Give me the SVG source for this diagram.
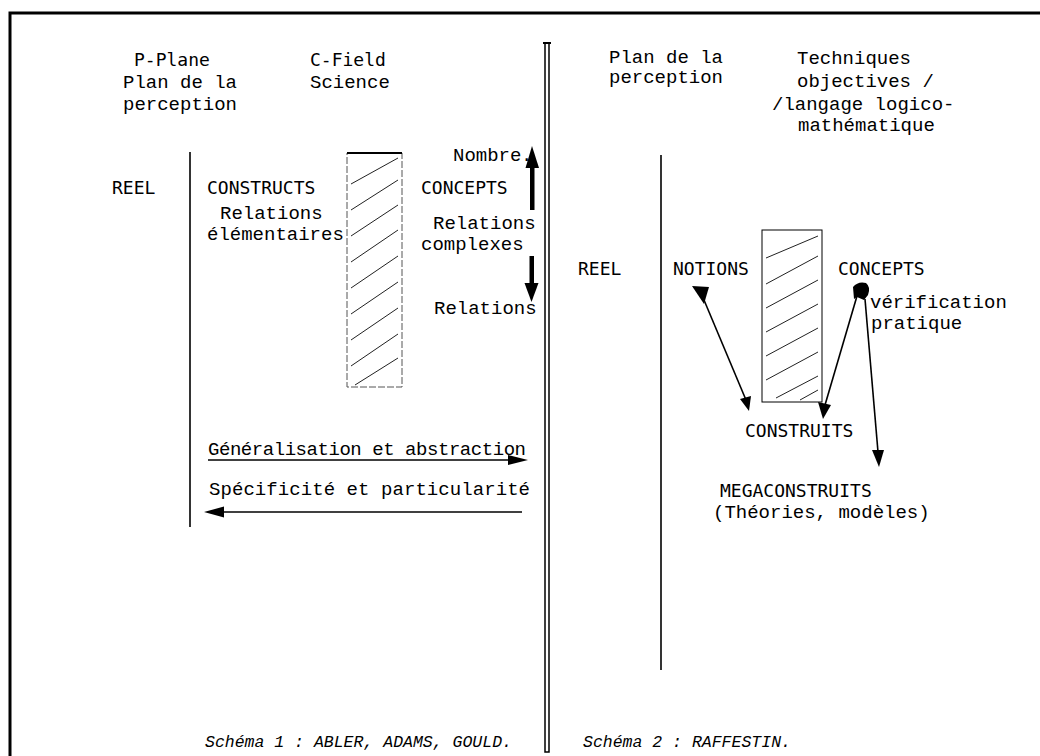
<svg xmlns="http://www.w3.org/2000/svg" width="1040" height="756" viewBox="0 0 1040 756">
<defs>
<style>
.sans{font-family:"DejaVu Sans Mono","Liberation Mono",monospace;font-size:18px;fill:#000}
.mono{font-family:"Liberation Mono","DejaVu Sans Mono",monospace;font-size:19px;fill:#000}
.cap{font-family:"Liberation Mono","DejaVu Sans Mono",monospace;font-size:16.5px;font-style:italic;fill:#000}
.ln{stroke:#000;stroke-width:1.6;fill:none}
.hatch{stroke:#222;stroke-width:1;fill:none}
</style>
<marker id="ah" viewBox="0 0 10 10" refX="9" refY="5" markerWidth="7" markerHeight="7" markerUnits="userSpaceOnUse" orient="auto">
<path d="M0,0 L10,5 L0,10 z" fill="#000"/>
</marker>
<marker id="ahb" viewBox="0 0 10 10" refX="9" refY="5" markerWidth="9" markerHeight="11" orient="auto" markerUnits="userSpaceOnUse">
<path d="M0,0 L10,5 L0,10 z" fill="#000"/>
</marker>
</defs>
<rect width="1040" height="756" fill="#fff"/>
<path d="M10,756 V13 H1040" stroke="#000" stroke-width="3" fill="none"/>

<g id="divider">
<path d="M545,42 V752 H549 V42" stroke="#000" stroke-width="1.5" fill="none"/>
<line x1="543" y1="43" x2="551" y2="43" stroke="#000" stroke-width="2"/>
</g>

<g id="schema1-headers">
<text class="sans" x="134" y="66">P-Plane</text>
<text class="mono" x="123" y="88">Plan de la</text>
<text class="mono" x="123" y="110">perception</text>
<text class="sans" x="310" y="66">C-Field</text>
<text class="mono" x="310" y="88">Science</text>
</g>

<g id="schema1-axis"><line class="ln" x1="190" y1="152" x2="190" y2="527"/></g>

<g id="reel1"><text class="sans" x="112" y="194">REEL</text></g>
<g id="constructs">
<text class="sans" x="207" y="194">CONSTRUCTS</text>
<text class="mono" x="220" y="219">Relations</text>
<text class="mono" x="207" y="240">élémentaires</text>
</g>

<g id="hatch1">
<rect x="347" y="153" width="55" height="234" stroke="#555" stroke-width="1" stroke-dasharray="7 2" fill="none"/>
<line x1="347" y1="153" x2="402" y2="153" stroke="#000" stroke-width="2"/>
<g class="hatch">
<line x1="351" y1="184" x2="398" y2="158"/>
<line x1="351" y1="210" x2="398" y2="180"/>
<line x1="351" y1="236" x2="398" y2="205"/>
<line x1="351" y1="262" x2="398" y2="230"/>
<line x1="351" y1="288" x2="398" y2="256"/>
<line x1="351" y1="314" x2="398" y2="282"/>
<line x1="351" y1="340" x2="398" y2="308"/>
<line x1="351" y1="366" x2="398" y2="334"/>
<line x1="355" y1="385" x2="398" y2="358"/>
</g>
</g>

<g id="concepts1">
<text class="mono" x="453" y="161">Nombre</text>
<text class="mono" x="521" y="161">.</text>
<text class="sans" x="421" y="194">CONCEPTS</text>
<text class="mono" x="433" y="229">Relations</text>
<text class="mono" x="421" y="250">complexes</text>
<text class="mono" x="434" y="314">Relations</text>
</g>

<g id="schema1-arrows-text">
<text class="mono" x="208" y="455" textLength="318">Généralisation et abstraction</text>
<text class="mono" x="209" y="495" textLength="321">Spécificité et particularité</text>
</g>

<g id="schema2-headers">
<text class="mono" x="609" y="63">Plan de la</text>
<text class="mono" x="609" y="83">perception</text>
<text class="mono" x="797" y="64">Techniques</text>
<text class="mono" x="797" y="87">objectives /</text>
<text class="mono" x="772" y="110">/langage logico-</text>
<text class="mono" x="798" y="131">mathématique</text>
</g>

<g id="schema2-axis"><line class="ln" x1="661" y1="155" x2="661" y2="670"/></g>

<g id="reel2"><text class="sans" x="578" y="275">REEL</text></g>
<g id="notions"><text class="sans" x="673" y="275">NOTIONS</text></g>

<g id="hatch2">
<rect x="762" y="230" width="60" height="172" stroke="#000" stroke-width="1" fill="none"/>
<g class="hatch">
<line x1="766" y1="258" x2="818" y2="236"/>
<line x1="766" y1="284" x2="818" y2="256"/>
<line x1="766" y1="308" x2="818" y2="280"/>
<line x1="766" y1="332" x2="818" y2="304"/>
<line x1="766" y1="356" x2="818" y2="328"/>
<line x1="766" y1="380" x2="818" y2="352"/>
<line x1="776" y1="398" x2="818" y2="376"/>
<line x1="800" y1="400" x2="818" y2="390"/>
</g>
</g>

<g id="concepts2">
<text class="sans" x="838" y="275">CONCEPTS</text>
<text class="mono" x="870" y="308">vérification</text>
<text class="mono" x="871" y="329">pratique</text>
</g>
<g id="construits"><text class="sans" x="745" y="437">CONSTRUITS</text></g>
<g id="megaconstruits">
<text class="sans" x="720" y="497">MEGACONSTRUITS</text>
<text class="mono" x="713" y="518">(Théories, modèles)</text>
</g>

<g id="captions">
<text class="cap" x="205" y="747">Schéma 1 : ABLER, ADAMS, GOULD.</text>
<text class="cap" x="583" y="747">Schéma 2 : RAFFESTIN.</text>
</g>

<g id="connectors">
<rect x="530" y="164" width="4.5" height="46" fill="#000"/>
<path d="M525.5,168 L539,168 L532,146 z" fill="#000"/>
<rect x="529.5" y="256" width="4.5" height="30" fill="#000"/>
<path d="M524.5,283 L538.5,283 L531.5,302 z" fill="#000"/>
<line class="ln" x1="208" y1="460" x2="512" y2="460"/>
<path d="M508,455 L528,460 L508,465 z" fill="#000"/>
<line class="ln" x1="222" y1="512" x2="522" y2="512"/>
<path d="M224,506.5 L204,512 L224,517.5 z" fill="#000"/>
<path d="M692,286 L709,287 L704,304 z" fill="#000"/>
<line class="ln" x1="704" y1="300" x2="746" y2="400"/>
<path d="M740,399 L749,411 L751,396 z" fill="#000"/>
<path d="M853,287 Q858,281 866,283 Q871,287 868,295 L864,300 L857,297 L854,299 z" fill="#000"/>
<line class="ln" x1="857" y1="296" x2="825" y2="405"/>
<path d="M818,402 L823,419 L831,405 z" fill="#000"/>
<line class="ln" x1="865" y1="299" x2="878" y2="452"/>
<path d="M872,450 L879,467 L884,450 z" fill="#000"/>
</g>
</svg>
